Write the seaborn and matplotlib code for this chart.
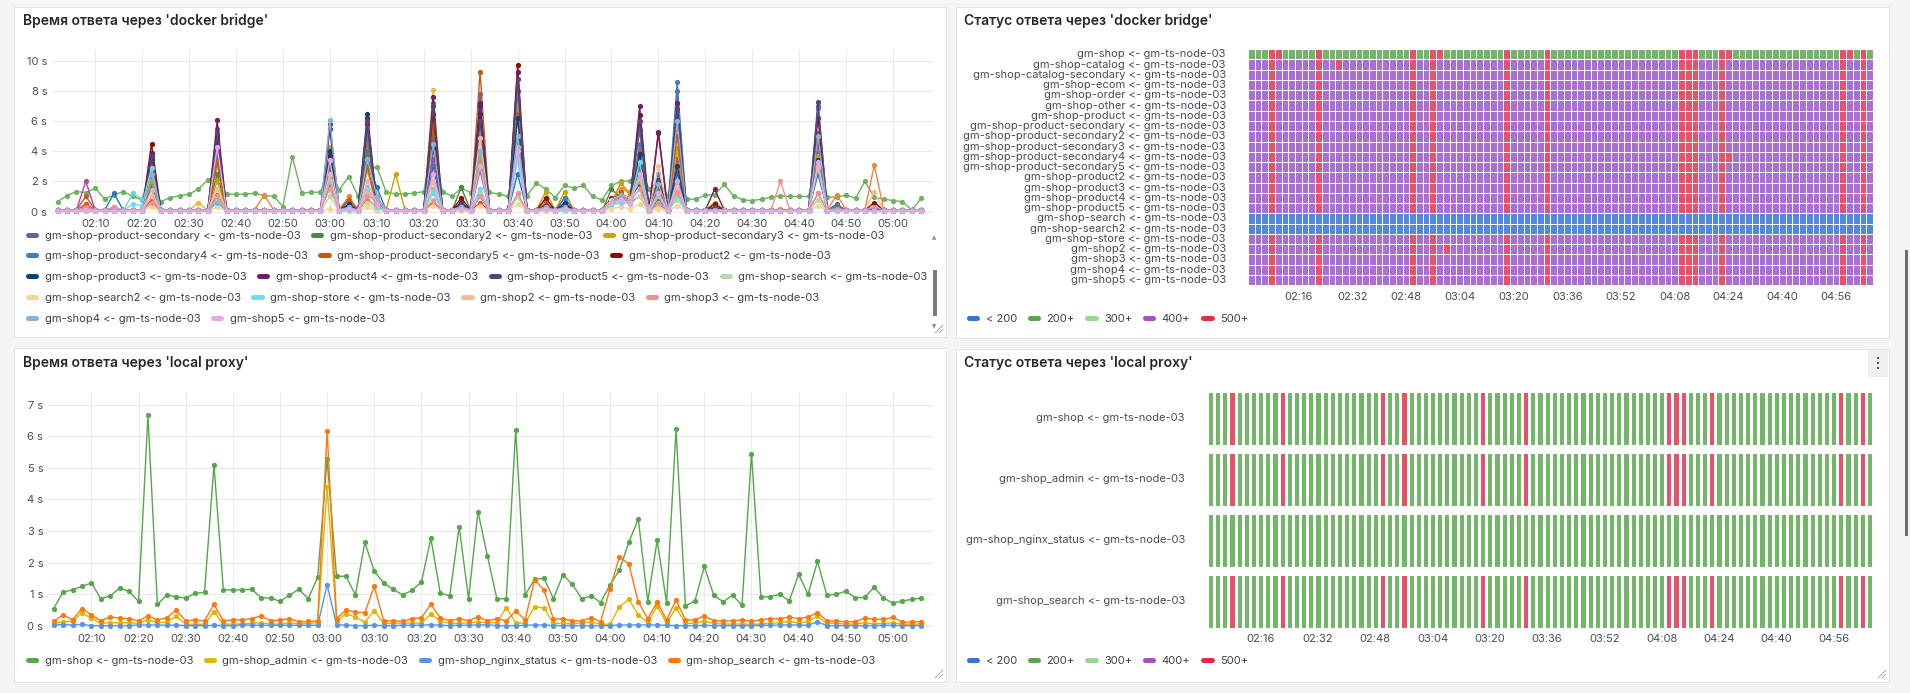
import numpy as np
import pandas as pd
import matplotlib
matplotlib.use('Agg')
import matplotlib.pyplot as plt
import matplotlib.dates as mdates
from matplotlib.colors import ListedColormap
from matplotlib.lines import Line2D
from matplotlib.patches import Rectangle
import seaborn as sns

W, H = 1910, 693
NODE = ' <- gm-ts-node-03'

# ---------------- data ----------------
# one sample every 2 minutes, 02:02 .. 05:06
times = pd.date_range('2024-01-01 02:02', periods=93, freq='2min')

# --- response time via docker bridge ---
docker_services = ['gm-shop', 'gm-shop-catalog', 'gm-shop-catalog-secondary', 'gm-shop-ecom',
                   'gm-shop-order', 'gm-shop-other', 'gm-shop-product', 'gm-shop-product-secondary',
                   'gm-shop-product-secondary2', 'gm-shop-product-secondary3', 'gm-shop-product-secondary4',
                   'gm-shop-product-secondary5', 'gm-shop-product2', 'gm-shop-product3', 'gm-shop-product4',
                   'gm-shop-product5', 'gm-shop-search', 'gm-shop-search2', 'gm-shop-store', 'gm-shop2',
                   'gm-shop3', 'gm-shop4', 'gm-shop5']
docker_colors = ['#6DB35F', '#EAB839', '#6ED0E0', '#EF843C', '#E24D42', '#1F78C1', '#BA43A9', '#705DA0',
                 '#508642', '#CCA300', '#447EBC', '#C15C17', '#890F02', '#0A437C', '#6D1F62', '#584477',
                 '#B7DBAB', '#F4D598', '#70DBED', '#F9BA8F', '#F29191', '#82B5D8', '#E5A8E2']

gm_shop_docker = [0.66, 1.06, 1.33, 1.26, 1.55, 0.84, 1.10, 1.33, 1.00, 0.77,
                  1.88, 0.66, 0.93, 1.06, 1.15, 1.50, 2.10, 2.40, 1.15, 1.15,
                  1.15, 1.22, 1.04, 1.04, 0.33, 3.65, 1.22, 1.28, 1.28, 3.00,
                  1.44, 2.32, 1.04, 2.70, 2.98, 1.28, 1.17, 1.17, 1.22, 1.33,
                  4.30, 1.33, 1.00, 1.55, 1.26, 4.00, 1.28, 1.15, 1.00, 4.50,
                  1.06, 1.88, 1.50, 0.93, 1.73, 1.55, 1.73, 1.00, 0.77, 1.73,
                  2.00, 2.04, 3.00, 1.50, 2.00, 1.00, 3.50, 0.82, 0.82, 1.10,
                  1.10, 1.81, 1.04, 0.77, 0.73, 0.82, 0.95, 1.04, 1.00, 1.00,
                  1.00, 3.50, 0.95, 0.95, 1.10, 0.88, 2.00, 0.95, 0.82, 0.73,
                  0.66, 0.10, 0.88]

# idle level of the other services
docker_base = [0.08, 0.05, 0.12, 0.06, 0.08, 0.10, 0.07, 0.05, 0.10, 0.09,
               0.12, 0.08, 0.06, 0.10, 0.04, 0.01, 0.01, 0.04, 0.10, 0.10, 0.07, 0.05]

# values at the moments where the services jump (0 = idle level)
spike_times = ['02:08', '02:14', '02:18', '02:20', '02:22', '02:32', '02:36', '02:46', '03:00', '03:04',
               '03:08', '03:10', '03:14', '03:22', '03:28', '03:32', '03:40', '03:46', '03:50', '04:00',
               '04:02', '04:04', '04:06', '04:10', '04:14', '04:22', '04:36', '04:44', '04:48', '04:56']
docker_spikes = {
    'gm-shop-catalog':            [0.3, 0, 0, 0, 2.0, 0.6, 3.0, 0, 4.3, 0.3, 2.8, 0.3, 0, 8.05, 0.3, 3.3, 7.4, 0.5, 0.4, 0.6, 1.9, 1.2, 2.2, 1.0, 3.9, 0.6, 0.2, 3.7, 0.2, 0.2],
    'gm-shop-catalog-secondary':  [0, 0, 1.2, 0.85, 3.0, 0, 0.7, 0, 2.5, 0.2, 1.6, 0.4, 0, 1.5, 0.2, 1.5, 3.5, 0, 0, 0.5, 0.8, 0.9, 3.5, 0.6, 1.0, 0, 0, 3.0, 0, 0],
    'gm-shop-ecom':               [0.5, 0, 0, 0, 0.6, 0, 1.1, 1.1, 2.4, 1.0, 0.8, 0.3, 0, 2.0, 0.3, 5.0, 4.3, 0.8, 0.3, 0.7, 1.5, 1.3, 2.8, 0.9, 2.6, 0.2, 0, 2.8, 1.1, 3.1],
    'gm-shop-order':              [0.5, 0.3, 0, 0, 0.8, 0, 1.1, 0, 1.8, 0.3, 4.6, 0.8, 0, 0.6, 0.3, 0.6, 1.0, 0.6, 0.3, 0.4, 1.3, 0.6, 1.0, 0.5, 2.0, 0, 0, 1.2, 0, 0.2],
    'gm-shop-other':              [0, 1.2, 0, 0, 1.5, 0, 0.6, 0, 3.0, 0.7, 3.5, 1.6, 0, 3.0, 0.5, 1.0, 2.5, 0.5, 0.9, 0.8, 1.0, 0.9, 1.8, 0.6, 2.5, 0.2, 0, 2.5, 0.5, 0.2],
    'gm-shop-product':            [2.0, 0, 0, 0, 3.8, 0, 4.0, 0, 3.6, 0.3, 4.0, 0.5, 0, 3.5, 0.4, 2.7, 4.0, 0.3, 0.2, 0.7, 0.9, 0.5, 3.0, 1.0, 3.5, 0.2, 0, 4.5, 0.1, 0.1],
    'gm-shop-product-secondary':  [0.2, 0, 0, 0, 2.2, 0, 5.5, 0, 3.0, 0.4, 5.3, 0.4, 0, 5.0, 0.6, 7.8, 8.0, 0.3, 0.3, 0.8, 1.0, 0.8, 5.4, 2.0, 8.0, 0.3, 0, 7.0, 0.1, 0.1],
    'gm-shop-product-secondary2': [0.1, 0, 0, 0, 1.8, 0, 2.5, 0, 3.2, 0.3, 4.0, 0.3, 0, 7.2, 1.6, 4.0, 5.0, 0.2, 0.3, 1.5, 0.9, 0.6, 3.0, 0.8, 6.5, 0.2, 0, 3.9, 0.1, 0.1],
    'gm-shop-product-secondary3': [0.1, 0, 0, 0, 2.0, 0, 2.0, 0, 4.2, 0.2, 2.8, 0.3, 2.5, 6.0, 0.4, 3.5, 7.0, 1.3, 1.3, 0.6, 1.9, 1.0, 2.0, 1.5, 4.2, 0.6, 0, 3.7, 0.1, 0.1],
    'gm-shop-product-secondary4': [0.1, 0, 0, 0, 2.8, 0, 3.5, 0, 4.0, 0.4, 5.0, 0.8, 0, 5.4, 0.5, 6.0, 8.0, 0.4, 0.9, 0.6, 0.9, 0.7, 4.5, 2.5, 8.6, 0.2, 0, 6.9, 0.4, 0.1],
    'gm-shop-product-secondary5': [1.0, 0, 0, 0, 3.2, 0, 3.3, 0, 3.8, 0.8, 3.0, 0.4, 0, 5.5, 0.5, 9.3, 6.5, 0.5, 0.3, 0.8, 1.2, 0.8, 4.0, 1.5, 5.0, 0.3, 0, 5.2, 0.3, 0.2],
    'gm-shop-product2':           [0.3, 0, 0, 0, 4.5, 0, 5.0, 0, 3.7, 0.4, 5.8, 0.5, 0, 6.5, 0.9, 6.5, 9.75, 0.9, 0.4, 0.8, 1.1, 0.9, 6.4, 5.2, 6.0, 0.5, 0, 5.0, 0.2, 0.6],
    'gm-shop-product3':           [0.1, 0, 0, 0, 3.5, 0, 4.8, 0, 4.0, 0.5, 6.5, 0.4, 0, 4.2, 0.6, 7.0, 6.2, 0.3, 0.6, 0.7, 0.9, 0.7, 3.8, 2.0, 3.0, 0.2, 0, 3.4, 0.1, 0.1],
    'gm-shop-product4':           [0.2, 0, 0, 0, 3.9, 0, 6.05, 0, 5.5, 0.4, 6.2, 0.5, 0, 7.6, 0.5, 7.2, 9.3, 0.4, 0.4, 0.9, 1.0, 0.8, 7.0, 5.3, 7.2, 1.5, 0, 6.2, 0.2, 0.2],
    'gm-shop-product5':           [0.1, 0, 0, 0, 3.7, 0, 5.2, 0, 5.8, 0.3, 6.0, 0.4, 0, 7.0, 0.5, 6.0, 8.8, 0.3, 0.3, 0.8, 0.9, 0.7, 6.0, 2.1, 6.8, 0.3, 0, 7.3, 0.1, 0.1],
    'gm-shop-search':             [0, 0, 0, 0, 0.5, 0, 0.6, 0, 1.0, 0, 0.6, 0, 0, 0.8, 0, 1.2, 1.0, 0, 0, 0.4, 0.6, 0.5, 1.0, 0.4, 0.8, 0, 0, 0.8, 0, 0],
    'gm-shop-search2':            [0, 0, 0, 0, 0.3, 0, 0.3, 0, 0.2, 0, 0.3, 0, 0, 0.4, 0, 0.4, 0.5, 0, 0, 0.2, 0.3, 0.2, 0.5, 0.2, 0.4, 0, 0, 0.4, 0, 0],
    'gm-shop-store':              [0, 0, 0.5, 0.4, 2.9, 0, 0.9, 0, 2.0, 0.1, 1.5, 0.3, 0, 1.2, 0.2, 1.5, 3.4, 0.2, 0.1, 0.5, 0.6, 0.7, 3.3, 1.0, 1.0, 0, 0, 2.9, 0, 0],
    'gm-shop2':                   [0.2, 0, 0, 0, 1.0, 0, 1.5, 0, 2.5, 0.2, 1.2, 0.9, 0, 2.0, 0.3, 4.9, 4.3, 0.2, 0.2, 0.8, 1.1, 0.9, 2.2, 3.0, 1.5, 0, 0, 3.0, 0.2, 1.3],
    'gm-shop3':                   [0.3, 0.3, 0, 0, 0.6, 0, 1.0, 0, 1.5, 0.2, 1.0, 0.8, 0, 0.7, 0.2, 1.0, 1.2, 0.3, 0.2, 0.6, 0.9, 0.7, 1.5, 0.6, 1.3, 0, 2.0, 1.2, 0, 0.3],
    'gm-shop4':                   [0, 0, 0, 0, 2.5, 0, 0.6, 0, 6.1, 0.3, 3.5, 1.0, 0, 4.5, 0.3, 4.0, 5.0, 0.3, 0.3, 0.6, 1.1, 0.7, 2.5, 1.8, 6.0, 0, 0, 5.0, 0.2, 0.1],
    'gm-shop5':                   [0.1, 0, 0, 0, 1.4, 0, 4.3, 0, 3.4, 0.2, 2.0, 0.5, 0, 2.5, 0.2, 3.0, 4.0, 0.2, 0.2, 0.6, 0.8, 0.6, 2.5, 1.2, 2.0, 0, 0, 3.3, 0, 0],
}

# --- response time via local proxy ---
proxy_services = ['gm-shop', 'gm-shop_admin', 'gm-shop_nginx_status', 'gm-shop_search']
proxy_colors = ['#56A64B', '#E0B400', '#5794F2', '#FF780A']
proxy_gm_shop = [0.55, 1.07, 1.14, 1.25, 1.36, 0.86, 0.95, 1.20, 1.09, 0.78,
                 6.66, 0.68, 0.98, 0.92, 0.88, 1.03, 1.06, 5.09, 1.14, 1.14,
                 1.14, 1.16, 0.89, 0.88, 0.78, 0.97, 1.16, 0.86, 1.54, 5.28,
                 1.57, 1.57, 0.98, 2.64, 1.73, 1.36, 1.16, 0.98, 1.12, 1.39,
                 2.77, 1.04, 0.95, 3.13, 0.86, 3.61, 2.21, 0.86, 0.86, 6.21,
                 0.98, 1.47, 1.51, 0.86, 1.61, 1.32, 0.86, 0.95, 0.74, 1.29,
                 1.77, 2.65, 3.39, 0.77, 2.71, 0.72, 6.23, 0.63, 0.79, 1.88,
                 0.97, 0.76, 0.97, 0.65, 5.45, 0.92, 0.92, 1.00, 0.79, 1.63,
                 1.00, 2.04, 0.97, 1.00, 1.10, 0.89, 0.90, 1.22, 0.88, 0.72,
                 0.79, 0.84, 0.88]
proxy_admin = [0.08, 0.12, 0.15, 0.40, 0.25, 0.08, 0.10, 0.10, 0.10, 0.08,
               0.20, 0.10, 0.12, 0.30, 0.05, 0.05, 0.05, 0.45, 0.05, 0.06,
               0.06, 0.08, 0.10, 0.06, 0.05, 0.10, 0.06, 0.08, 0.10, 4.40,
               0.15, 0.38, 0.28, 0.12, 0.48, 0.08, 0.08, 0.08, 0.10, 0.08,
               0.38, 0.15, 0.08, 0.08, 0.10, 0.12, 0.10, 0.10, 0.58, 0.10,
               0.08, 0.61, 0.56, 0.08, 0.08, 0.06, 0.10, 0.12, 0.06, 0.05,
               0.61, 0.84, 0.35, 0.10, 0.63, 0.08, 0.58, 0.08, 0.08, 0.15,
               0.08, 0.06, 0.06, 0.06, 0.05, 0.06, 0.08, 0.10, 0.15, 0.08,
               0.15, 0.30, 0.08, 0.08, 0.06, 0.06, 0.10, 0.06, 0.08, 0.10,
               0.05, 0.06, 0.06]
proxy_nginx = [0.03, 0.04, 0.03, 0.05, 0.01, 0.01, 0.01, 0.01, 0.01, 0.03,
               0.03, 0.03, 0.02, 0.03, 0.01, 0.01, 0.01, 0.02, 0.01, 0.01,
               0.03, 0.02, 0.02, 0.02, 0.02, 0.02, 0.02, 0.02, 0.02, 1.30,
               0.03, 0.03, 0.01, 0.01, 0.02, 0.01, 0.01, 0.02, 0.02, 0.02,
               0.04, 0.02, 0.01, 0.02, 0.02, 0.03, 0.04, 0.01, 0.01, 0.01,
               0.02, 0.03, 0.03, 0.01, 0.01, 0.01, 0.01, 0.01, 0.01, 0.01,
               0.03, 0.03, 0.03, 0.03, 0.03, 0.02, 0.01, 0.01, 0.01, 0.02,
               0.01, 0.01, 0.01, 0.01, 0.01, 0.02, 0.02, 0.03, 0.03, 0.03,
               0.02, 0.13, 0.01, 0.01, 0.01, 0.01, 0.01, 0.01, 0.02, 0.02,
               0.01, 0.01, 0.01]
proxy_search = [0.14, 0.35, 0.19, 0.55, 0.35, 0.16, 0.29, 0.24, 0.23, 0.16,
                0.32, 0.19, 0.26, 0.50, 0.16, 0.19, 0.16, 0.68, 0.16, 0.19,
                0.19, 0.23, 0.32, 0.16, 0.19, 0.23, 0.13, 0.14, 0.16, 6.18,
                0.23, 0.50, 0.44, 0.42, 1.25, 0.16, 0.16, 0.14, 0.23, 0.26,
                0.68, 0.26, 0.16, 0.23, 0.16, 0.29, 0.16, 0.23, 0.16, 0.47,
                0.19, 1.45, 1.14, 0.21, 0.23, 0.16, 0.16, 0.26, 0.13, 1.18,
                2.19, 1.95, 0.76, 0.23, 0.76, 0.19, 0.82, 0.19, 0.19, 0.32,
                0.16, 0.16, 0.16, 0.19, 0.14, 0.19, 0.23, 0.23, 0.28, 0.23,
                0.28, 0.42, 0.16, 0.16, 0.13, 0.13, 0.25, 0.21, 0.21, 0.27,
                0.11, 0.13, 0.13]

# --- status history ---
status_labels = ['< 200', '200+', '300+', '400+', '500+']
status_legend_colors = ['#3274D9', '#56A64B', '#96D98D', '#A352CC', '#E02F44']
status_cell_colors = ['#5387E0', '#72B667', '#96D98D', '#AB6ED4', '#E6526A']

bridge_normal = ['200+', '400+', '400+', '400+', '400+', '400+', '400+', '400+', '400+', '400+', '400+',
                 '400+', '400+', '400+', '400+', '400+', '< 200', '< 200', '400+', '400+', '400+', '400+', '400+']
errors_common = ['02:08', '02:22', '02:50', '02:56', '03:18', '03:30', '04:10', '04:12', '04:14',
                 '04:22', '04:58', '05:04']
bridge_errors_extra = {'gm-shop': ['02:10', '02:58', '04:24', '05:00'],
                       'gm-shop-catalog': ['02:28'],
                       'gm-shop-product-secondary4': ['04:24'],
                       'gm-shop2': ['03:00']}
bridge_no_errors = ['gm-shop-search', 'gm-shop-search2']

proxy_no_errors = ['gm-shop_nginx_status']

# ---------------- build tables ----------------
clock = list(times.strftime('%H:%M'))

docker_rows = []
for i, name in enumerate(docker_services):
    if i == 0:
        vals = list(gm_shop_docker)
    else:
        vals = [docker_base[i - 1]] * len(times)
        for t, v in zip(spike_times, docker_spikes[name]):
            if v:
                vals[clock.index(t)] = v
    docker_rows.append(pd.DataFrame({'time': times, 'value': vals, 'series': name}))
docker_df = pd.concat(docker_rows, ignore_index=True)

proxy_df = pd.concat([pd.DataFrame({'time': times, 'value': v, 'series': n})
                      for n, v in zip(proxy_services, [proxy_gm_shop, proxy_admin, proxy_nginx, proxy_search])],
                     ignore_index=True)

code = {lab: i for i, lab in enumerate(status_labels)}
bridge_mat = []
for name, normal in zip(docker_services, bridge_normal):
    row = [code[normal]] * len(times)
    if name not in bridge_no_errors:
        for t in errors_common + bridge_errors_extra.get(name, []):
            row[clock.index(t)] = code['500+']
    bridge_mat.append(row)
bridge_df = pd.DataFrame(bridge_mat, index=[s + NODE for s in docker_services], columns=clock)

proxy_mat = []
for name in proxy_services:
    row = [code['200+']] * len(times)
    if name not in proxy_no_errors:
        for t in errors_common:
            row[clock.index(t)] = code['500+']
    proxy_mat.append(row)
proxy_status_df = pd.DataFrame(proxy_mat, index=[s + NODE for s in proxy_services], columns=clock)

# ---------------- figure ----------------
sns.set_style('white')
plt.rcParams['font.family'] = ['Inter', 'DejaVu Sans']
TXT = '#464C54'

fig = plt.figure(figsize=(W / 100, H / 100), dpi=100, facecolor='#F4F5F5')


def frac(x0, y0, x1, y1):
    return [x0 / W, 1 - y1 / H, (x1 - x0) / W, (y1 - y0) / H]


# panels
for x0, y0, x1, y1 in [(14, 7, 946, 337), (956, 7, 1889, 338), (14, 348, 946, 682), (956, 349, 1889, 682)]:
    fig.patches.append(Rectangle((x0 / W, 1 - y1 / H), (x1 - x0) / W, (y1 - y0) / H,
                                 transform=fig.transFigure, facecolor='white',
                                 edgecolor='#E4E6E9', lw=0.8, zorder=-5))

for x, y, t in [(23, 21, "Время ответа через 'docker bridge'"), (964, 21, "Статус ответа через 'docker bridge'"),
                (23, 363, "Время ответа через 'local proxy'"), (964, 363, "Статус ответа через 'local proxy'")]:
    fig.text(x / W, 1 - y / H, t, ha='left', va='center', fontsize=10, fontweight='semibold', color='#24292E')

t_lo = pd.Timestamp('2024-01-01 02:00:48')
t_hi = pd.Timestamp('2024-01-01 05:08:30')


def style_time_axis(ax, ymax, ystep):
    ax.set_xlim(t_lo, t_hi)
    ax.set_ylim(-ymax * 0.009, ymax)
    ax.set_yticks(np.arange(0, ymax, ystep))
    ax.yaxis.set_major_formatter(lambda v, p: f'{v:g} s')
    ax.xaxis.set_major_locator(mdates.MinuteLocator(byminute=range(0, 60, 10)))
    ax.xaxis.set_major_formatter(mdates.DateFormatter('%H:%M'))
    ax.grid(True, color='#EBEBEB', lw=0.75)
    ax.set_axisbelow(True)
    sns.despine(ax=ax, left=True, bottom=True)
    ax.tick_params(length=0, labelsize=8, labelcolor=TXT)
    ax.tick_params(axis='y', pad=3.5)
    ax.tick_params(axis='x', pad=4.5)
    ax.set_xlabel('')
    ax.set_ylabel('')
    ax.set_facecolor('none')


line_kw = dict(marker='o', markersize=3.8, markeredgewidth=0, linewidth=1.0, legend=False, estimator=None)

ax1 = fig.add_axes(frac(52, 50, 933, 213))
sns.lineplot(data=docker_df, x='time', y='value', hue='series', hue_order=docker_services,
             palette=dict(zip(docker_services, docker_colors)), ax=ax1, **line_kw)
style_time_axis(ax1, 10.73, 2)

ax2 = fig.add_axes(frac(48, 392, 933, 628))
sns.lineplot(data=proxy_df, x='time', y='value', hue='series', hue_order=proxy_services,
             palette=dict(zip(proxy_services, proxy_colors)), ax=ax2, **line_kw)
style_time_axis(ax2, 7.4, 1)


def legend_row(labels, colors, x, y):
    handles = [Line2D([0], [0], color=c, lw=3.6, solid_capstyle='round') for c in colors]
    fig.legend(handles, labels, loc='center left', bbox_to_anchor=(x / W, 1 - y / H), ncol=len(labels),
               frameon=False, fontsize=8, handlelength=0.75, handletextpad=0.75, columnspacing=1.15,
               borderpad=0, borderaxespad=0, labelcolor='#3D4147')


for idx, y in zip([[7, 8, 9], [10, 11, 12], [13, 14, 15, 16], [17, 18, 19, 20], [21, 22]],
                  [236, 256, 277, 298, 319]):
    legend_row([docker_services[i] + NODE for i in idx], [docker_colors[i] for i in idx], 28, y)
legend_row([s + NODE for s in proxy_services], proxy_colors, 28, 661)

status_cmap = ListedColormap(status_cell_colors)
tick_times = pd.date_range('2024-01-01 02:16', '2024-01-01 04:56', freq='16min')
col_start = times[0] - pd.Timedelta('1min')
tick_pos = [(t - col_start) / pd.Timedelta('2min') for t in tick_times]


def style_status_axis(ax, xpad):
    ax.set_xticks(tick_pos)
    ax.set_xticklabels(tick_times.strftime('%H:%M'), rotation=0)
    ax.tick_params(length=0, labelsize=8, labelcolor=TXT)
    ax.tick_params(axis='y', pad=16, rotation=0)
    ax.tick_params(axis='x', pad=xpad)
    ax.set_xlabel('')
    ax.set_ylabel('')


ax3 = fig.add_axes(frac(1248, 49.2, 1873, 285.1))
sns.heatmap(bridge_df, ax=ax3, cmap=status_cmap, vmin=-0.5, vmax=4.5, cbar=False,
            linewidths=0.6, linecolor='white', xticklabels=False, yticklabels=True)
style_status_axis(ax3, 5)

ax4 = fig.add_axes(frac(1207, 387.5, 1873, 631.5))
sns.heatmap(proxy_status_df, ax=ax4, cmap=status_cmap, vmin=-0.5, vmax=4.5, cbar=False,
            linewidths=0.8, linecolor='white', xticklabels=False, yticklabels=True)
for yb in range(len(proxy_services) + 1):
    ax4.axhline(yb, color='white', lw=6.5)
style_status_axis(ax4, 1.5)

legend_row(status_labels, status_legend_colors, 969, 319)
legend_row(status_labels, status_legend_colors, 969, 661)

# legend scrollbar (top-left panel) and page scrollbar
fig.patches.append(Rectangle((932.5 / W, 1 - 316 / H), 4 / W, 46 / H, transform=fig.transFigure,
                             facecolor='#7A7A7A', edgecolor='none'))
fig.text(934.5 / W, 1 - 238 / H, '▲', fontsize=4, color='#8A8A8A', ha='center', va='center', family='DejaVu Sans')
fig.text(934.5 / W, 1 - 327 / H, '▼', fontsize=4, color='#8A8A8A', ha='center', va='center', family='DejaVu Sans')
fig.patches.append(Rectangle((1905 / W, 1 - 536 / H), 3 / W, 286 / H, transform=fig.transFigure,
                             facecolor='#6E6E6E', edgecolor='none'))

# panel menu button
fig.patches.append(Rectangle((1868 / W, 1 - 377 / H), 20 / W, 27 / H, transform=fig.transFigure,
                             facecolor='#EFEFEF', edgecolor='none'))
for yy in [358, 363, 368]:
    fig.patches.append(Rectangle((1877.3 / W, 1 - (yy + 0.8) / H), 1.6 / W, 1.6 / H,
                                 transform=fig.transFigure, facecolor='#555555', edgecolor='none'))

# resize handles
for xr, yr in [(943, 333), (1886, 678), (943, 678)]:
    for d in [4, 8]:
        fig.add_artist(Line2D([(xr - d) / W, xr / W], [1 - yr / H, 1 - (yr - d) / H],
                              transform=fig.transFigure, color='#9A9A9A', lw=0.6))

fig.savefig('out.png', dpi=100, facecolor=fig.get_facecolor())
